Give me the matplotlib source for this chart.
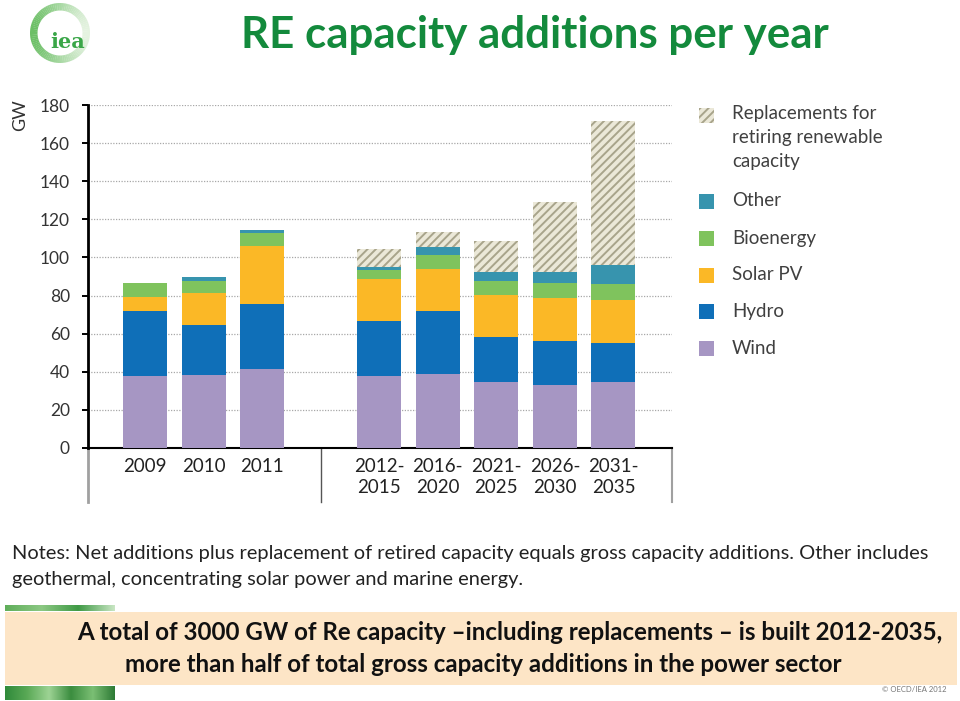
import numpy as np
import matplotlib
matplotlib.use("Agg")
import matplotlib.pyplot as plt
from matplotlib.patches import Rectangle, Wedge
from matplotlib.colors import LinearSegmentedColormap, to_rgb
from matplotlib.transforms import blended_transform_factory

# ---------------- data ----------------
categories = ["2009", "2010", "2011", "2012-\n2015", "2016-\n2020",
              "2021-\n2025", "2026-\n2030", "2031-\n2035"]
wind = [37.8, 38.3, 41.3, 37.8, 38.7, 34.8, 33.0, 34.8]
hydro = [34.2, 26.3, 34.3, 28.9, 33.2, 23.3, 23.3, 20.5]
solar_pv = [7.5, 16.6, 30.6, 21.8, 22.1, 22.2, 22.3, 22.2]
bioenergy = [7.3, 6.6, 6.5, 4.9, 7.5, 7.4, 8.2, 8.4]
other = [0.0, 1.8, 1.7, 1.8, 3.8, 4.5, 5.4, 10.3]
replacements = [0.0, 0.0, 0.0, 9.1, 8.1, 16.6, 37.1, 75.6]
yticks = [0, 20, 40, 60, 80, 100, 120, 140, 160, 180]

series_names = ["Wind", "Hydro", "Solar PV", "Bioenergy", "Other",
                "Replacements for\nretiring renewable\ncapacity"]
series_values = [wind, hydro, solar_pv, bioenergy, other, replacements]
series_colors = ["#a696c3", "#0f6fb8", "#fbb826", "#7fc35d", "#3794ae", "#ebe8d8"]

title = "RE capacity additions per year"
notes = ["Notes: Net additions plus replacement of retired capacity equals gross capacity additions. Other includes",
         "geothermal, concentrating solar power and marine energy."]
box_lines = ["A total of 3000 GW of Re capacity \u2013including replacements \u2013 is built 2012-2035,",
             "more than half of total gross capacity additions in the power sector"]

plt.rcParams["font.family"] = ["Lato", "DejaVu Sans"]
plt.rcParams["hatch.linewidth"] = 1.4

W, H = 960, 701
fig = plt.figure(figsize=(W / 100, H / 100), dpi=100)
fig.patch.set_facecolor("white")

# overlay axes in pixel coordinates
ov = fig.add_axes([0, 0, 1, 1], zorder=0)
ov.set_xlim(0, W)
ov.set_ylim(H, 0)
ov.axis("off")

# main chart axes
ax = fig.add_axes([88 / W, 1 - 448 / H, 584 / W, 343 / H], zorder=2)
ax.set_facecolor("none")
x = np.r_[0:3, 4:9]
bottom = np.zeros(len(x))
for name, vals, col in zip(series_names, series_values, series_colors):
    vals = np.array(vals, dtype=float)
    if name.startswith("Replacements"):
        ax.bar(x, vals, 0.75, bottom=bottom, color=col, edgecolor="#a8a48b",
               hatch="////", linewidth=0, zorder=3)
    else:
        ax.bar(x, vals, 0.75, bottom=bottom, color=col, linewidth=0, zorder=3)
    bottom += vals

ax.set_xlim(-0.975, 9.0)
ax.set_ylim(0, 180)
ax.set_yticks(yticks)
ax.set_yticklabels([str(v) for v in yticks])
ax.set_xticks(x)
ax.set_xticklabels(categories, linespacing=1.3)
ax.yaxis.grid(True, linestyle=(0, (1, 1.2)), color="#a8a8a8", linewidth=0.9)
ax.set_axisbelow(True)
for s in ["top", "right"]:
    ax.spines[s].set_visible(False)
ax.spines["left"].set_linewidth(2)
ax.spines["bottom"].set_linewidth(1.5)
ax.tick_params(axis="y", direction="out", length=4, width=1.4, pad=9,
               labelsize=12.5, labelcolor="#333333")
ax.tick_params(axis="x", length=0, pad=7, labelsize=13.5, labelcolor="#222222")

# lines below the x-axis (category box)
ax.plot([0, 0], [0, -0.157], transform=ax.transAxes, color="#a0a0a0", lw=2, clip_on=False)
ax.plot([1, 1], [0, -0.157], transform=ax.transAxes, color="#a0a0a0", lw=1.5, clip_on=False)
bt = blended_transform_factory(ax.transData, ax.transAxes)
ax.plot([3, 3], [0, -0.157], transform=bt, color="#555555", lw=1, clip_on=False)

ov.text(20, 115, "GW", rotation=90, ha="center", va="center", fontsize=13, color="#333333")

renderer = fig.canvas.get_renderer()


def fit(t, width_px):
    for _ in range(3):
        w = t.get_window_extent(renderer).width
        t.set_fontsize(t.get_fontsize() * width_px / w)


# legend (drawn manually in pixel space)
leg_order = list(range(len(series_names)))[::-1]
leg_y = [115, 201, 238.5, 275, 311.5, 348]
for yy, i in zip(leg_y, leg_order):
    name = series_names[i]
    if name.startswith("Replacements"):
        ov.add_patch(Rectangle((699, yy - 7.5), 15, 15, facecolor=series_colors[i],
                               edgecolor="#a8a48b", hatch="////", lw=0))
        t = ov.text(732, 105, name, ha="left", va="top", fontsize=13.5,
                    color="#404040", linespacing=1.5)
    else:
        ov.add_patch(Rectangle((699, yy - 7.5), 15, 15, facecolor=series_colors[i], lw=0))
        t = ov.text(732, yy, name, ha="left", va="center", fontsize=13.5, color="#404040")

# title
tt = ov.text(535, 35, title, ha="center", va="center", fontsize=32,
             fontweight="bold", color="#138a3c")
fit(tt, 590)

# notes
n1 = ov.text(12, 553, notes[0], ha="left", va="center", fontsize=13, color="#222222")
fit(n1, 916)
n2 = ov.text(12, 580, notes[1], ha="left", va="center", fontsize=n1.get_fontsize(), color="#222222")

# bottom box
ov.add_patch(Rectangle((5, 612), 952, 73, facecolor="#fde5c6", lw=0))
b1 = ov.text(510, 633, box_lines[0], ha="center", va="center", fontsize=18,
             fontweight="bold", color="#111111")
fit(b1, 864)
b2 = ov.text(483, 664, box_lines[1], ha="center", va="center", fontsize=b1.get_fontsize(),
             fontweight="bold", color="#111111")

# green gradient strips
cm_top = LinearSegmentedColormap.from_list("t", ["#5fae5a", "#8cc883", "#3f9a45", "#c9e6c4"])
cm_bot = LinearSegmentedColormap.from_list("b", ["#2f8a3a", "#5aa956", "#9dd394", "#3b8d3f", "#7bbf74", "#2d7a35"])
grad = np.linspace(0, 1, 256)[None, :]
ov.imshow(grad, cmap=cm_top, extent=(5, 115, 611, 605), aspect="auto", zorder=1)
ov.imshow(grad, cmap=cm_bot, extent=(5, 115, 700, 686), aspect="auto", zorder=1)
ov.set_xlim(0, W)
ov.set_ylim(H, 0)

ov.text(947, 690, "\u00a9 OECD/IEA 2012", ha="right", va="center", fontsize=5.5, color="#777777")

# IEA logo
c0 = np.array(to_rgb("#6cbf66"))
c1 = np.array(to_rgb("#e4f2e0"))
n = 90
for k in range(n):
    a0 = 360 * k / n
    a1 = 360 * (k + 1) / n + 0.5
    mid = np.deg2rad((a0 + a1) / 2)
    f = (1 + np.cos(mid)) / 2  # 1 at right, 0 at left
    col = c0 * (1 - f) + c1 * f
    ov.add_patch(Wedge((60, 33), 30, a0, a1, width=7.5, facecolor=col, lw=0))
lt = ov.text(68, 42, "iea", ha="center", va="center", fontsize=17, fontweight="bold",
             color="#3aa648", family=["DejaVu Serif"])
fit(lt, 35)

fig.savefig("out.png", dpi=100)
